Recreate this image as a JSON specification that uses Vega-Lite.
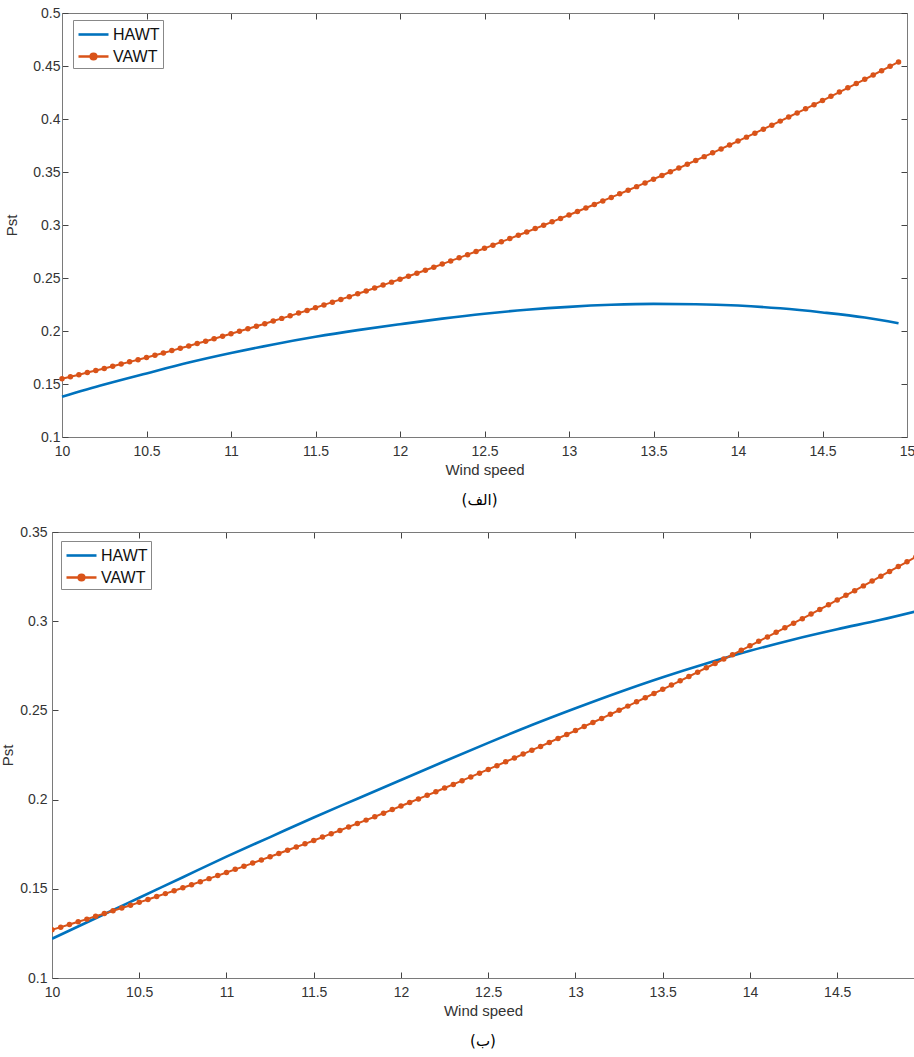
{
"$schema": "https://vega.github.io/schema/vega-lite/v6.json",
"padding": {"left": 0, "top": 6, "right": 0, "bottom": 0},
"background": "white",
"spacing": 16,
"resolve": {"scale": {"color": "independent"}, "legend": {"color": "independent"}},
"datasets": {
"topH": [
{"x":10,"p":0.138,"s":"HAWT"},{"x":10.25,"p":0.1495,"s":"HAWT"},{"x":10.5,"p":0.160,"s":"HAWT"},{"x":10.75,"p":0.1702,"s":"HAWT"},{"x":11,"p":0.1792,"s":"HAWT"},{"x":11.25,"p":0.1873,"s":"HAWT"},{"x":11.5,"p":0.1945,"s":"HAWT"},{"x":11.75,"p":0.2008,"s":"HAWT"},{"x":12,"p":0.2064,"s":"HAWT"},{"x":12.25,"p":0.2117,"s":"HAWT"},{"x":12.5,"p":0.2163,"s":"HAWT"},{"x":12.75,"p":0.2200,"s":"HAWT"},{"x":13,"p":0.2228,"s":"HAWT"},{"x":13.25,"p":0.2247,"s":"HAWT"},{"x":13.5,"p":0.2256,"s":"HAWT"},{"x":13.75,"p":0.2253,"s":"HAWT"},{"x":14,"p":0.2240,"s":"HAWT"},{"x":14.25,"p":0.2214,"s":"HAWT"},{"x":14.5,"p":0.2175,"s":"HAWT"},{"x":14.75,"p":0.2127,"s":"HAWT"},{"x":14.95,"p":0.2073,"s":"HAWT"}
],
"topV": [
{"x":10,"p":0.1550,"s":"VAWT"},{"x":10.05,"p":0.1569,"s":"VAWT"},{"x":10.1,"p":0.1588,"s":"VAWT"},{"x":10.15,"p":0.1608,"s":"VAWT"},{"x":10.2,"p":0.1627,"s":"VAWT"},{"x":10.25,"p":0.1647,"s":"VAWT"},{"x":10.3,"p":0.1668,"s":"VAWT"},{"x":10.35,"p":0.1688,"s":"VAWT"},{"x":10.4,"p":0.1709,"s":"VAWT"},{"x":10.45,"p":0.1729,"s":"VAWT"},
{"x":10.5,"p":0.1750,"s":"VAWT"},{"x":10.55,"p":0.1772,"s":"VAWT"},{"x":10.6,"p":0.1793,"s":"VAWT"},{"x":10.65,"p":0.1815,"s":"VAWT"},{"x":10.7,"p":0.1837,"s":"VAWT"},{"x":10.75,"p":0.1859,"s":"VAWT"},{"x":10.8,"p":0.1882,"s":"VAWT"},{"x":10.85,"p":0.1904,"s":"VAWT"},{"x":10.9,"p":0.1927,"s":"VAWT"},{"x":10.95,"p":0.1950,"s":"VAWT"},
{"x":11,"p":0.1974,"s":"VAWT"},{"x":11.05,"p":0.1997,"s":"VAWT"},{"x":11.1,"p":0.2021,"s":"VAWT"},{"x":11.15,"p":0.2045,"s":"VAWT"},{"x":11.2,"p":0.2069,"s":"VAWT"},{"x":11.25,"p":0.2094,"s":"VAWT"},{"x":11.3,"p":0.2119,"s":"VAWT"},{"x":11.35,"p":0.2143,"s":"VAWT"},{"x":11.4,"p":0.2169,"s":"VAWT"},{"x":11.45,"p":0.2194,"s":"VAWT"},
{"x":11.5,"p":0.2220,"s":"VAWT"},{"x":11.55,"p":0.2246,"s":"VAWT"},{"x":11.6,"p":0.2272,"s":"VAWT"},{"x":11.65,"p":0.2298,"s":"VAWT"},{"x":11.7,"p":0.2324,"s":"VAWT"},{"x":11.75,"p":0.2351,"s":"VAWT"},{"x":11.8,"p":0.2378,"s":"VAWT"},{"x":11.85,"p":0.2406,"s":"VAWT"},{"x":11.9,"p":0.2433,"s":"VAWT"},{"x":11.95,"p":0.2461,"s":"VAWT"},
{"x":12,"p":0.2488,"s":"VAWT"},{"x":12.05,"p":0.2517,"s":"VAWT"},{"x":12.1,"p":0.2545,"s":"VAWT"},{"x":12.15,"p":0.2573,"s":"VAWT"},{"x":12.2,"p":0.2602,"s":"VAWT"},{"x":12.25,"p":0.2631,"s":"VAWT"},{"x":12.3,"p":0.2661,"s":"VAWT"},{"x":12.35,"p":0.2690,"s":"VAWT"},{"x":12.4,"p":0.2720,"s":"VAWT"},{"x":12.45,"p":0.2750,"s":"VAWT"},
{"x":12.5,"p":0.2780,"s":"VAWT"},{"x":12.55,"p":0.2810,"s":"VAWT"},{"x":12.6,"p":0.2841,"s":"VAWT"},{"x":12.65,"p":0.2872,"s":"VAWT"},{"x":12.7,"p":0.2903,"s":"VAWT"},{"x":12.75,"p":0.2934,"s":"VAWT"},{"x":12.8,"p":0.2966,"s":"VAWT"},{"x":12.85,"p":0.2998,"s":"VAWT"},{"x":12.9,"p":0.3030,"s":"VAWT"},{"x":12.95,"p":0.3062,"s":"VAWT"},
{"x":13,"p":0.3094,"s":"VAWT"},{"x":13.05,"p":0.3127,"s":"VAWT"},{"x":13.1,"p":0.3160,"s":"VAWT"},{"x":13.15,"p":0.3193,"s":"VAWT"},{"x":13.2,"p":0.3227,"s":"VAWT"},{"x":13.25,"p":0.3260,"s":"VAWT"},{"x":13.3,"p":0.3294,"s":"VAWT"},{"x":13.35,"p":0.3328,"s":"VAWT"},{"x":13.4,"p":0.3362,"s":"VAWT"},{"x":13.45,"p":0.3397,"s":"VAWT"},
{"x":13.5,"p":0.3432,"s":"VAWT"},{"x":13.55,"p":0.3467,"s":"VAWT"},{"x":13.6,"p":0.3502,"s":"VAWT"},{"x":13.65,"p":0.3537,"s":"VAWT"},{"x":13.7,"p":0.3573,"s":"VAWT"},{"x":13.75,"p":0.3609,"s":"VAWT"},{"x":13.8,"p":0.3645,"s":"VAWT"},{"x":13.85,"p":0.3681,"s":"VAWT"},{"x":13.9,"p":0.3718,"s":"VAWT"},{"x":13.95,"p":0.3755,"s":"VAWT"},
{"x":14,"p":0.3792,"s":"VAWT"},{"x":14.05,"p":0.3829,"s":"VAWT"},{"x":14.1,"p":0.3866,"s":"VAWT"},{"x":14.15,"p":0.3904,"s":"VAWT"},{"x":14.2,"p":0.3942,"s":"VAWT"},{"x":14.25,"p":0.3980,"s":"VAWT"},{"x":14.3,"p":0.4019,"s":"VAWT"},{"x":14.35,"p":0.4057,"s":"VAWT"},{"x":14.4,"p":0.4096,"s":"VAWT"},{"x":14.45,"p":0.4135,"s":"VAWT"},
{"x":14.5,"p":0.4174,"s":"VAWT"},{"x":14.55,"p":0.4214,"s":"VAWT"},{"x":14.6,"p":0.4254,"s":"VAWT"},{"x":14.65,"p":0.4294,"s":"VAWT"},{"x":14.7,"p":0.4334,"s":"VAWT"},{"x":14.75,"p":0.4374,"s":"VAWT"},{"x":14.8,"p":0.4415,"s":"VAWT"},{"x":14.85,"p":0.4456,"s":"VAWT"},{"x":14.9,"p":0.4497,"s":"VAWT"},{"x":14.95,"p":0.4538,"s":"VAWT"}
],
"botH": [
{"x":10,"p":0.122,"s":"HAWT"},{"x":10.25,"p":0.1335,"s":"HAWT"},{"x":10.5,"p":0.145,"s":"HAWT"},{"x":10.75,"p":0.1565,"s":"HAWT"},{"x":11,"p":0.168,"s":"HAWT"},{"x":11.25,"p":0.179,"s":"HAWT"},{"x":11.5,"p":0.190,"s":"HAWT"},{"x":11.75,"p":0.2005,"s":"HAWT"},{"x":12,"p":0.211,"s":"HAWT"},{"x":12.25,"p":0.2215,"s":"HAWT"},{"x":12.5,"p":0.2318,"s":"HAWT"},{"x":12.75,"p":0.2418,"s":"HAWT"},{"x":13,"p":0.2512,"s":"HAWT"},{"x":13.25,"p":0.2602,"s":"HAWT"},{"x":13.5,"p":0.2686,"s":"HAWT"},{"x":13.75,"p":0.2763,"s":"HAWT"},{"x":14,"p":0.2834,"s":"HAWT"},{"x":14.25,"p":0.2898,"s":"HAWT"},{"x":14.5,"p":0.2955,"s":"HAWT"},{"x":14.75,"p":0.3008,"s":"HAWT"},{"x":14.95,"p":0.3055,"s":"HAWT"}
],
"botV": [
{"x":10,"p":0.1270,"s":"VAWT"},{"x":10.05,"p":0.1285,"s":"VAWT"},{"x":10.1,"p":0.1300,"s":"VAWT"},{"x":10.15,"p":0.1315,"s":"VAWT"},{"x":10.2,"p":0.1330,"s":"VAWT"},{"x":10.25,"p":0.1346,"s":"VAWT"},{"x":10.3,"p":0.1361,"s":"VAWT"},{"x":10.35,"p":0.1377,"s":"VAWT"},{"x":10.4,"p":0.1392,"s":"VAWT"},{"x":10.45,"p":0.1408,"s":"VAWT"},
{"x":10.5,"p":0.1424,"s":"VAWT"},{"x":10.55,"p":0.1440,"s":"VAWT"},{"x":10.6,"p":0.1457,"s":"VAWT"},{"x":10.65,"p":0.1473,"s":"VAWT"},{"x":10.7,"p":0.1489,"s":"VAWT"},{"x":10.75,"p":0.1506,"s":"VAWT"},{"x":10.8,"p":0.1523,"s":"VAWT"},{"x":10.85,"p":0.1540,"s":"VAWT"},{"x":10.9,"p":0.1557,"s":"VAWT"},{"x":10.95,"p":0.1574,"s":"VAWT"},
{"x":11,"p":0.1591,"s":"VAWT"},{"x":11.05,"p":0.1609,"s":"VAWT"},{"x":11.1,"p":0.1626,"s":"VAWT"},{"x":11.15,"p":0.1644,"s":"VAWT"},{"x":11.2,"p":0.1662,"s":"VAWT"},{"x":11.25,"p":0.1680,"s":"VAWT"},{"x":11.3,"p":0.1698,"s":"VAWT"},{"x":11.35,"p":0.1716,"s":"VAWT"},{"x":11.4,"p":0.1734,"s":"VAWT"},{"x":11.45,"p":0.1752,"s":"VAWT"},
{"x":11.5,"p":0.1771,"s":"VAWT"},{"x":11.55,"p":0.1790,"s":"VAWT"},{"x":11.6,"p":0.1809,"s":"VAWT"},{"x":11.65,"p":0.1827,"s":"VAWT"},{"x":11.7,"p":0.1847,"s":"VAWT"},{"x":11.75,"p":0.1866,"s":"VAWT"},{"x":11.8,"p":0.1885,"s":"VAWT"},{"x":11.85,"p":0.1904,"s":"VAWT"},{"x":11.9,"p":0.1924,"s":"VAWT"},{"x":11.95,"p":0.1944,"s":"VAWT"},
{"x":12,"p":0.1964,"s":"VAWT"},{"x":12.05,"p":0.1984,"s":"VAWT"},{"x":12.1,"p":0.2004,"s":"VAWT"},{"x":12.15,"p":0.2024,"s":"VAWT"},{"x":12.2,"p":0.2044,"s":"VAWT"},{"x":12.25,"p":0.2065,"s":"VAWT"},{"x":12.3,"p":0.2085,"s":"VAWT"},{"x":12.35,"p":0.2106,"s":"VAWT"},{"x":12.4,"p":0.2127,"s":"VAWT"},{"x":12.45,"p":0.2148,"s":"VAWT"},
{"x":12.5,"p":0.2169,"s":"VAWT"},{"x":12.55,"p":0.2190,"s":"VAWT"},{"x":12.6,"p":0.2212,"s":"VAWT"},{"x":12.65,"p":0.2233,"s":"VAWT"},{"x":12.7,"p":0.2255,"s":"VAWT"},{"x":12.75,"p":0.2277,"s":"VAWT"},{"x":12.8,"p":0.2298,"s":"VAWT"},{"x":12.85,"p":0.2320,"s":"VAWT"},{"x":12.9,"p":0.2343,"s":"VAWT"},{"x":12.95,"p":0.2365,"s":"VAWT"},
{"x":13,"p":0.2387,"s":"VAWT"},{"x":13.05,"p":0.2410,"s":"VAWT"},{"x":13.1,"p":0.2432,"s":"VAWT"},{"x":13.15,"p":0.2455,"s":"VAWT"},{"x":13.2,"p":0.2478,"s":"VAWT"},{"x":13.25,"p":0.2501,"s":"VAWT"},{"x":13.3,"p":0.2524,"s":"VAWT"},{"x":13.35,"p":0.2548,"s":"VAWT"},{"x":13.4,"p":0.2571,"s":"VAWT"},{"x":13.45,"p":0.2595,"s":"VAWT"},
{"x":13.5,"p":0.2618,"s":"VAWT"},{"x":13.55,"p":0.2642,"s":"VAWT"},{"x":13.6,"p":0.2666,"s":"VAWT"},{"x":13.65,"p":0.2690,"s":"VAWT"},{"x":13.7,"p":0.2714,"s":"VAWT"},{"x":13.75,"p":0.2739,"s":"VAWT"},{"x":13.8,"p":0.2763,"s":"VAWT"},{"x":13.85,"p":0.2788,"s":"VAWT"},{"x":13.9,"p":0.2812,"s":"VAWT"},{"x":13.95,"p":0.2837,"s":"VAWT"},
{"x":14,"p":0.2862,"s":"VAWT"},{"x":14.05,"p":0.2887,"s":"VAWT"},{"x":14.1,"p":0.2912,"s":"VAWT"},{"x":14.15,"p":0.2938,"s":"VAWT"},{"x":14.2,"p":0.2963,"s":"VAWT"},{"x":14.25,"p":0.2989,"s":"VAWT"},{"x":14.3,"p":0.3014,"s":"VAWT"},{"x":14.35,"p":0.3040,"s":"VAWT"},{"x":14.4,"p":0.3066,"s":"VAWT"},{"x":14.45,"p":0.3092,"s":"VAWT"},
{"x":14.5,"p":0.3119,"s":"VAWT"},{"x":14.55,"p":0.3145,"s":"VAWT"},{"x":14.6,"p":0.3171,"s":"VAWT"},{"x":14.65,"p":0.3198,"s":"VAWT"},{"x":14.7,"p":0.3225,"s":"VAWT"},{"x":14.75,"p":0.3252,"s":"VAWT"},{"x":14.8,"p":0.3279,"s":"VAWT"},{"x":14.85,"p":0.3306,"s":"VAWT"},{"x":14.9,"p":0.3333,"s":"VAWT"},{"x":14.95,"p":0.3360,"s":"VAWT"}
]
},
"vconcat": [
{
"width": 855, "height": 424,
"view": {"stroke": null},
"title": {"text": "(الف)", "orient": "bottom", "font": "DejaVu Sans", "fontSize": 15, "fontWeight": "normal", "color": "#000", "offset": 16, "anchor": "middle"},
"resolve": {"axis": {"x": "independent", "y": "independent"}},
"layer": [
{"data": {"name": "topH"},
 "mark": {"type": "line", "interpolate": "monotone", "strokeWidth": 2.6, "clip": true},
 "encoding": {
  "x": {"field": "x", "type": "quantitative", "scale": {"domain": [10, 15], "range": [10, 855], "nice": false, "zero": false},
        "axis": {"orient": "bottom", "values": [10,10.5,11,11.5,12,12.5,13,13.5,14,14.5,15], "title": "Wind speed", "titlePadding": 4, "labelPadding": 13}},
  "y": {"field": "p", "type": "quantitative", "scale": {"domain": [0.1, 0.5], "nice": false, "zero": false},
        "axis": {"orient": "left", "offset": -10, "values": [0.1,0.15,0.2,0.25,0.3,0.35,0.4,0.45,0.5], "title": "Pst", "titlePadding": 13, "labelPadding": 8}},
  "color": {"field": "s", "type": "nominal", "scale": {"domain": ["HAWT", "VAWT"], "range": ["#0072BD", "#D95319"]},
        "legend": {"title": null, "orient": "none", "legendX": 21, "legendY": 7,
                   "encode": {"symbols": {"update": {"shape": {"signal": "datum.value === 'VAWT' ? 'M-1.5,0H1.5M-0.28,0A0.28,0.28,0,1,0,0.28,0A0.28,0.28,0,1,0,-0.28,0Z' : 'M-1.5,0H1.5'"}, "fill": {"signal": "datum.value === 'VAWT' ? '#D95319' : 'transparent'"}}}}}}
 }},
{"data": {"name": "topV"},
 "mark": {"type": "line", "strokeWidth": 2, "clip": true, "point": {"filled": true, "size": 30}},
 "encoding": {
  "x": {"field": "x", "type": "quantitative", "axis": null},
  "y": {"field": "p", "type": "quantitative", "axis": null},
  "color": {"field": "s", "type": "nominal"}
 }},
{"data": {"name": "topH"},
 "mark": {"type": "point", "opacity": 0},
 "encoding": {
  "x": {"field": "x", "type": "quantitative", "axis": {"orient": "top", "values": [10,10.5,11,11.5,12,12.5,13,13.5,14,14.5,15], "labels": false, "title": null}},
  "y": {"field": "p", "type": "quantitative", "axis": {"orient": "right", "values": [0.1,0.15,0.2,0.25,0.3,0.35,0.4,0.45,0.5], "labels": false, "title": null}}
 }}
]
},
{
"width": 862, "height": 446,
"title": {"text": "(ب)", "orient": "bottom", "font": "DejaVu Sans", "fontSize": 15, "fontWeight": "normal", "color": "#000", "offset": 16},
"resolve": {"axis": {"x": "independent", "y": "independent"}},
"layer": [
{"data": {"name": "botH"},
 "mark": {"type": "line", "interpolate": "monotone", "strokeWidth": 2.6, "clip": true},
 "encoding": {
  "x": {"field": "x", "type": "quantitative", "scale": {"domain": [10, 14.94], "nice": false, "zero": false},
        "axis": {"orient": "bottom", "values": [10,10.5,11,11.5,12,12.5,13,13.5,14,14.5], "title": "Wind speed", "titlePadding": 4, "labelPadding": 13}},
  "y": {"field": "p", "type": "quantitative", "scale": {"domain": [0.1, 0.35], "nice": false, "zero": false},
        "axis": {"orient": "left", "values": [0.1,0.15,0.2,0.25,0.3,0.35], "title": "Pst", "titlePadding": 4, "labelPadding": 11}},
  "color": {"field": "s", "type": "nominal", "scale": {"domain": ["HAWT", "VAWT"], "range": ["#0072BD", "#D95319"]},
        "legend": {"title": null, "orient": "none", "legendX": 9, "legendY": 9,
                   "encode": {"symbols": {"update": {"shape": {"signal": "datum.value === 'VAWT' ? 'M-1.5,0H1.5M-0.28,0A0.28,0.28,0,1,0,0.28,0A0.28,0.28,0,1,0,-0.28,0Z' : 'M-1.5,0H1.5'"}, "fill": {"signal": "datum.value === 'VAWT' ? '#D95319' : 'transparent'"}}}}}}
 }},
{"data": {"name": "botV"},
 "mark": {"type": "line", "strokeWidth": 2, "clip": true, "point": {"filled": true, "size": 30}},
 "encoding": {
  "x": {"field": "x", "type": "quantitative", "axis": null},
  "y": {"field": "p", "type": "quantitative", "axis": null},
  "color": {"field": "s", "type": "nominal"}
 }},
{"data": {"name": "botH"},
 "mark": {"type": "point", "opacity": 0},
 "encoding": {
  "x": {"field": "x", "type": "quantitative", "axis": {"orient": "top", "values": [10,10.5,11,11.5,12,12.5,13,13.5,14,14.5], "labels": false, "title": null}},
  "y": {"field": "p", "type": "quantitative", "axis": null}
 }}
]
}
],
"config": {
 "view": {"stroke": "#7a7a7a", "strokeWidth": 1},
 "axis": {"labelFont": "Liberation Sans", "labelFontSize": 14, "labelColor": "#333", "format": "~g",
          "titleFont": "Liberation Sans", "titleFontSize": 15, "titleFontWeight": "normal", "titleColor": "#333",
          "domainColor": "#7a7a7a", "tickColor": "#444", "grid": false, "tickSize": -6, "labelFlush": false, "labelOverlap": false},
 "legend": {"labelFont": "Liberation Sans", "labelFontSize": 16, "labelColor": "#111", "strokeColor": "#888", "fillColor": "white",
            "padding": 3, "symbolType": "stroke", "symbolSize": 400, "symbolStrokeWidth": 2.6, "symbolOffset": 6, "labelOffset": 8, "rowPadding": 2}
}
}
